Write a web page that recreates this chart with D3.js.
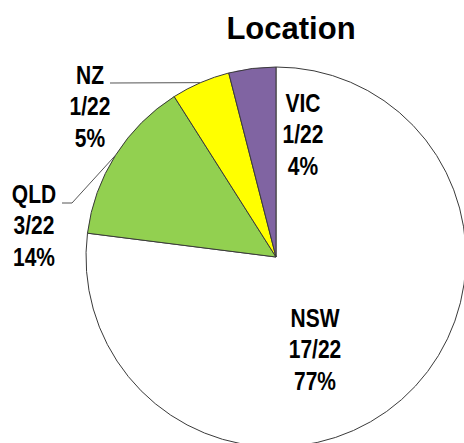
<!DOCTYPE html>
<html>
<head>
<meta charset="utf-8">
<script src="https://cdn.jsdelivr.net/npm/d3@7"></script>
<style>
  html, body { margin: 0; padding: 0; background: #fff; }
  svg { display: block; font-family: Arial, "Liberation Sans", sans-serif; }
</style>
</head>
<body>
<svg width="464" height="443"></svg>
<script>
var svg = d3.select("svg");

// data
var regions = ["NSW", "QLD", "NZ", "VIC"];
var counts = ["17/22", "3/22", "1/22", "1/22"];
var percents = [77, 14, 5, 4];
var colors = ["#FFFFFF", "#92D050", "#FFFF00", "#8064A2"];

var cx = 276, cy = 257, radius = 190;

svg.append("text")
   .attr("x", 291)
   .attr("y", 39)
   .attr("text-anchor", "middle")
   .style("font-size", "31px")
   .style("font-weight", "bold")
   .text("Location");

var pie = d3.pie().sort(null).value(function(d) { return d; });
var arcs = pie(percents);
var arc = d3.arc().innerRadius(0).outerRadius(radius);

var g = svg.append("g").attr("transform", "translate(" + cx + "," + cy + ")");

g.selectAll("path")
 .data(arcs)
 .enter()
 .append("path")
 .attr("d", arc)
 .attr("fill", function(d, i) { return colors[i]; })
 .attr("stroke", "#3a3a3a")
 .attr("stroke-width", 1);

// point on the rim at the middle of a slice
function rimPoint(d) {
    var a = (d.startAngle + d.endAngle) / 2;
    return [Math.sin(a) * radius, -Math.cos(a) * radius];
}

// label anchors (relative to pie centre), x is text centre, y is first baseline
var labelPos = {
    NSW: [39, 70],
    QLD: [-242, -54],
    NZ:  [-186, -173],
    VIC: [27, -145]
};
var leaders = {
    NZ:  [[-166, -174]],
    QLD: [[-214, -54], [-204, -54]]
};

arcs.forEach(function(d, i) {
    var name = regions[i];
    var p = labelPos[name];
    // narrow bold look: wider font squeezed horizontally
    var t = g.append("g")
             .attr("transform", "translate(" + p[0] + "," + p[1] + ") scale(0.84,1)")
             .append("text")
             .attr("text-anchor", "middle")
             .style("font-size", "25px")
             .style("font-weight", "bold");
    [name, counts[i], percents[i] + "%"].forEach(function(s, k) {
        t.append("tspan")
         .attr("x", 0)
         .attr("y", k * 31.5)
         .text(s);
    });
    if (leaders[name]) {
        var pts = leaders[name].concat([rimPoint(d)]);
        g.append("path")
         .attr("d", d3.line()(pts))
         .attr("fill", "none")
         .attr("stroke", "#555")
         .attr("stroke-width", 1);
    }
});
</script>
</body>
</html>
